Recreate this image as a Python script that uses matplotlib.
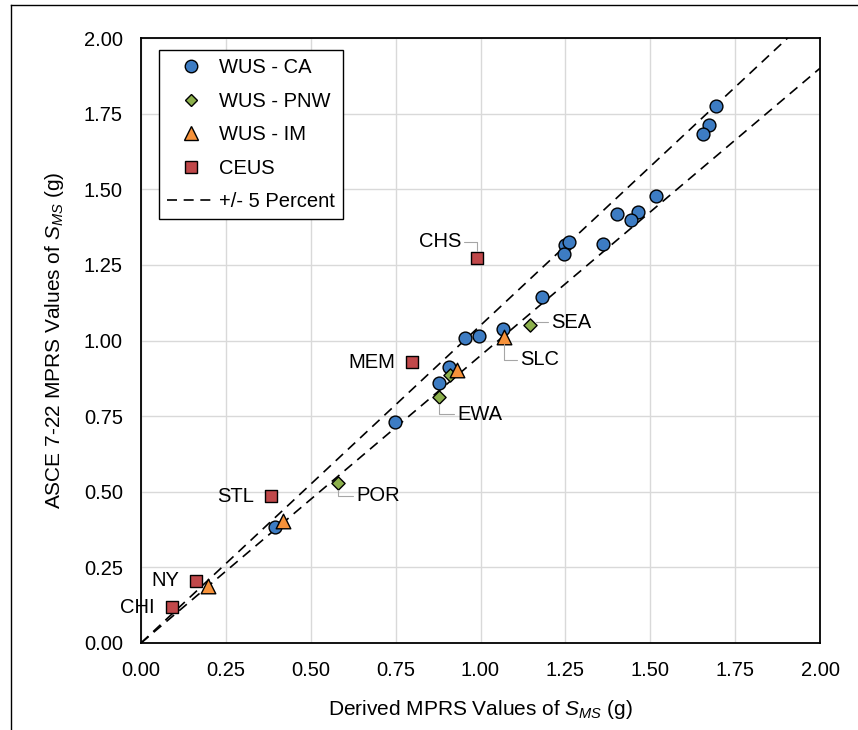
import matplotlib
matplotlib.use("Agg")
import matplotlib.pyplot as plt
from matplotlib.lines import Line2D

plt.rcParams['font.family'] = ['Liberation Sans', 'DejaVu Sans']
plt.rcParams['mathtext.fontset'] = 'custom'
plt.rcParams['mathtext.rm'] = 'Liberation Sans'
plt.rcParams['mathtext.it'] = 'Liberation Sans:italic'

# data (derived x, ASCE y)
ca_x = [1.694, 1.673, 1.655, 1.517, 1.402, 1.464, 1.443, 1.361, 1.250, 1.261, 1.246,
        1.181, 1.066, 0.996, 0.955, 0.907, 0.878, 0.748, 0.395]
ca_y = [1.775, 1.712, 1.683, 1.478, 1.418, 1.425, 1.398, 1.319, 1.316, 1.326, 1.286,
        1.144, 1.038, 1.015, 1.008, 0.912, 0.860, 0.731, 0.383]

pnw_x = [1.146, 0.910, 0.878, 0.580]
pnw_y = [1.051, 0.886, 0.813, 0.529]
pnw_names = ['SEA', '', 'EWA', 'POR']

im_x = [1.069, 0.931, 0.418, 0.197]
im_y = [1.012, 0.902, 0.403, 0.188]
im_names = ['SLC', '', '', '']

ceus_x = [0.990, 0.798, 0.383, 0.162, 0.091]
ceus_y = [1.273, 0.929, 0.486, 0.205, 0.119]
ceus_names = ['CHS', 'MEM', 'STL', 'NY', 'CHI']

band = 0.05
line_x = [0.0, 2.0]

# label offsets in pixels (dx, dy), alignment, leader line or not
label_style = {
    'CHS': (-16, 16, 'right', True),
    'SEA': (21, 3, 'left', True),
    'SLC': (16, -23, 'left', True),
    'MEM': (-17, -1, 'right', False),
    'EWA': (18, -17, 'left', True),
    'POR': (18, -13, 'left', True),
    'STL': (-17, -1, 'right', False),
    'NY': (-17, 0, 'right', False),
    'CHI': (-17, 0, 'right', False),
}

fs = 14.5

fig = plt.figure(figsize=(8.58, 7.30), dpi=100)
ax = fig.add_axes([141 / 858, 87 / 730, 679 / 858, 605 / 730])

ax.plot(line_x, [v * (1 + band) for v in line_x], color='black', lw=1.2,
        dashes=(6, 4), zorder=2)
ax.plot(line_x, [v * (1 - band) for v in line_x], color='black', lw=1.2,
        dashes=(6, 4), zorder=2)

ax.scatter(ca_x, ca_y, s=85, marker='o', color='#3D7CC3', edgecolor='black',
           linewidth=1.0, zorder=3)
ax.scatter(pnw_x, pnw_y, s=45, marker='D', color='#8CB04C', edgecolor='black',
           linewidth=1.0, zorder=4)
ax.scatter(im_x, im_y, s=110, marker='^', color='#F7923A', edgecolor='black',
           linewidth=1.0, zorder=5)
ax.scatter(ceus_x, ceus_y, s=85, marker='s', color='#C0484A', edgecolor='black',
           linewidth=1.0, zorder=6)

for xs, ys, names in [(pnw_x, pnw_y, pnw_names), (im_x, im_y, im_names),
                      (ceus_x, ceus_y, ceus_names)]:
    for x, y, name in zip(xs, ys, names):
        if not name:
            continue
        dx, dy, ha, leader = label_style[name]
        props = None
        if leader:
            props = dict(arrowstyle='-', color='#A6A6A6', lw=0.8, shrinkA=0,
                         shrinkB=5, connectionstyle='angle,angleA=0,angleB=90,rad=0')
        ax.annotate(name, xy=(x, y), xytext=(dx, dy), textcoords='offset pixels',
                    ha=ha, va='center', fontsize=fs, arrowprops=props, zorder=7)

ax.set_xlim(0, 2)
ax.set_ylim(0, 2)
ticks = [0, 0.25, 0.5, 0.75, 1.0, 1.25, 1.5, 1.75, 2.0]
ax.set_xticks(ticks)
ax.set_yticks(ticks)
ax.set_xticklabels([f'{t:.2f}' for t in ticks])
ax.set_yticklabels([f'{t:.2f}' for t in ticks])
ax.tick_params(length=0, labelsize=fs, pad=13)
ax.grid(True, color='#D9D9D9', lw=1.0)
ax.set_axisbelow(True)
for sp in ax.spines.values():
    sp.set_linewidth(1.3)
    sp.set_color('black')

ax.set_xlabel('Derived MPRS Values of $S_{MS}$ (g)', fontsize=15, labelpad=13)
ax.set_ylabel('ASCE 7-22 MPRS Values of $S_{MS}$ (g)', fontsize=15, labelpad=13)

handles = [
    Line2D([], [], ls='none', marker='o', ms=9, mfc='#3D7CC3', mec='black'),
    Line2D([], [], ls='none', marker='D', ms=6.5, mfc='#8CB04C', mec='black'),
    Line2D([], [], ls='none', marker='^', ms=10, mfc='#F7923A', mec='black'),
    Line2D([], [], ls='none', marker='s', ms=9, mfc='#C0484A', mec='black'),
    Line2D([], [], color='black', lw=1.2, dashes=(6, 4)),
]
labels = ['WUS - CA', 'WUS - PNW', 'WUS - IM', 'CEUS', '+/- 5 Percent']
leg = ax.legend(handles, labels, loc='upper left', bbox_to_anchor=(0.027, 0.98),
                fontsize=fs, frameon=True, fancybox=False, edgecolor='black',
                framealpha=1, handlelength=2.3, handletextpad=0.25,
                labelspacing=0.72, borderpad=0.4, borderaxespad=0)
leg.get_frame().set_linewidth(1.0)

# screenshot border (left and top edges only)
top = 1 - 5 / 730
left = 11 / 858
fig.add_artist(Line2D([left, left], [0, top], transform=fig.transFigure,
                      color='black', lw=1.0))
fig.add_artist(Line2D([left, 1], [top, top], transform=fig.transFigure,
                      color='black', lw=1.0))

fig.savefig('out.png', dpi=100)
